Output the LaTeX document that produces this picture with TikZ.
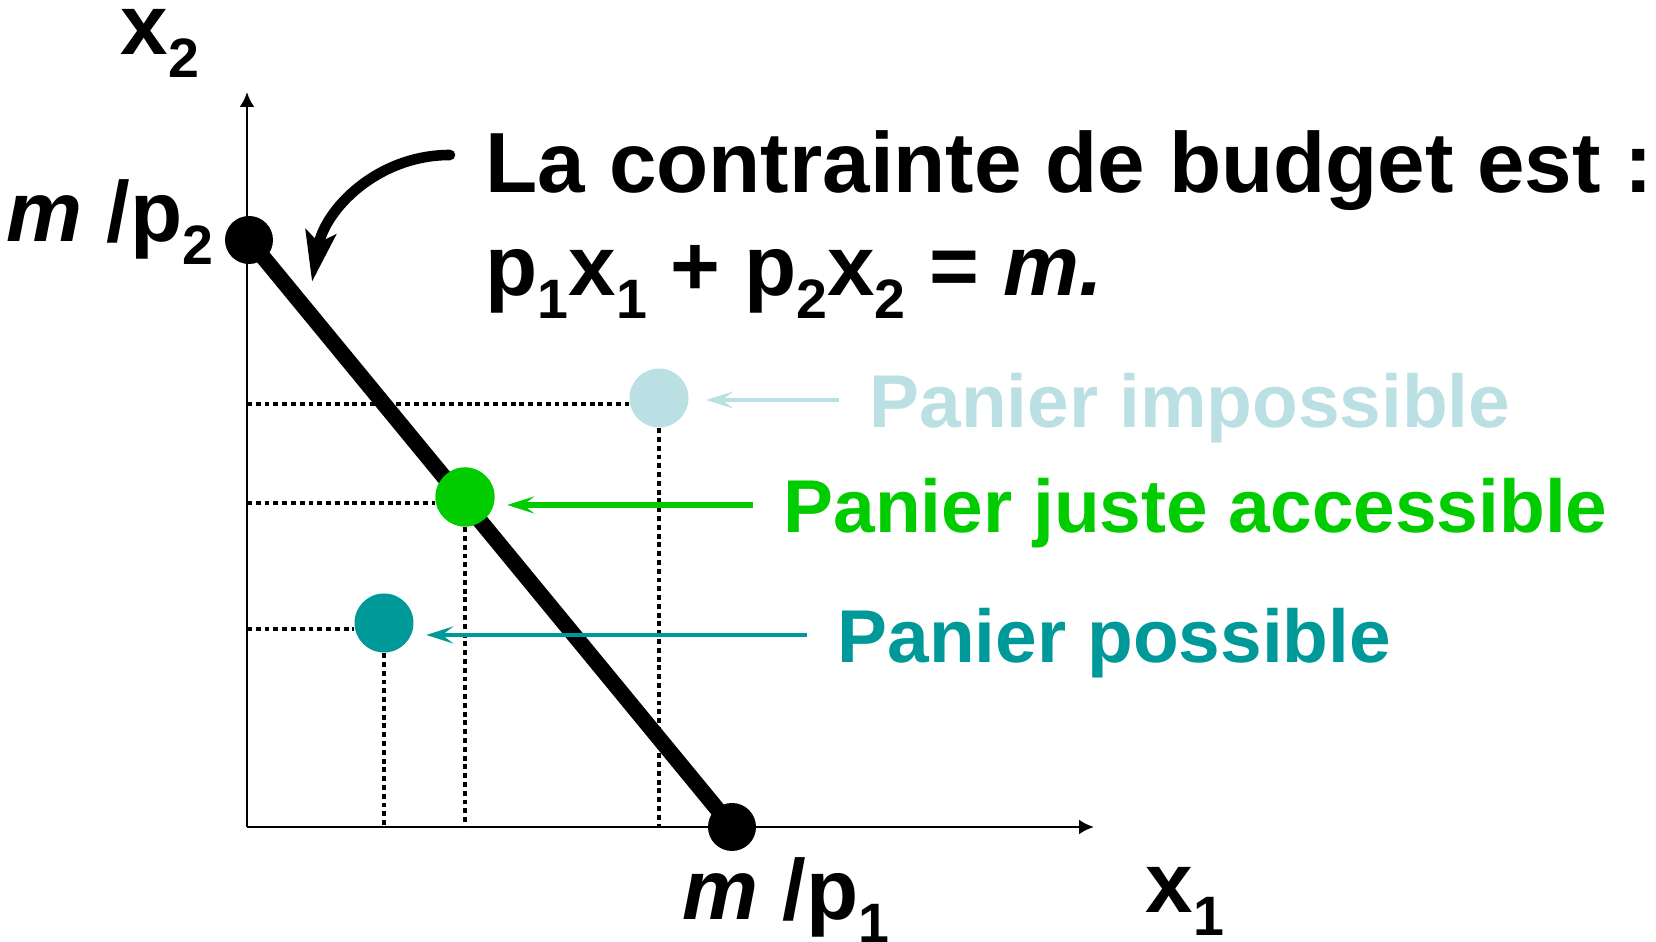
\documentclass[tikz,border=0pt]{standalone}
\usepackage{fontspec}
\setmainfont{Liberation Sans}
\usetikzlibrary{arrows.meta,positioning}
\definecolor{impcol}{RGB}{187,224,228}
\definecolor{justecol}{RGB}{0,204,0}
\definecolor{posscol}{RGB}{0,153,153}
\newcommand{\sbs}[1]{\raisebox{-0.26em}{\scalebox{0.65}{#1}}}
\begin{document}
\begin{tikzpicture}[
  big/.style={font=\fontsize{24.3}{28}\selectfont\bfseries, inner sep=0pt},
  lab/.style={font=\fontsize{21.3}{25}\selectfont\bfseries, inner sep=0pt},
  axis/.style={line width=0.8pt, -{Latex[length=1.5mm,width=1.5mm]}},
  guide/.style={line width=1.3pt, dash pattern=on 1.4pt off 1.1pt},
  budget/.style={line width=4.5pt},
  endpt/.style={circle, fill, inner sep=0pt, minimum size=4.8mm},
  bsk/.style={circle, fill, inner sep=0pt, minimum size=5.9mm},
  ptr/.style={-{Stealth[length=2.7mm,width=1.7mm,inset=1.1mm]}}
]
\useasboundingbox (-2.47,-1.15) rectangle (14.09,8.27);
% ---------------- axes ----------------
\coordinate (O) at (0,0);
\draw[axis] (O) -- (0,7.35);
\draw[axis] (O) -- (8.47,0);
\node[big, anchor=base west] (x2) at (-1.27,7.72) {x\sbs{2}};
\node[big, anchor=base west] (x1) at (8.98,-0.86) {x\sbs{1}};
% ---------------- baskets ----------------
\node[bsk, impcol] (imp) at (4.12,4.29) {};
\node[bsk, justecol] (juste) at (2.18,3.30) {};
\node[bsk, posscol] (poss) at (1.37,2.04) {};
\foreach \b in {imp, juste, poss} {
  \draw[guide] ([yshift=-0.06cm]O |- \b) -- ([yshift=-0.06cm]\b.west);
  \draw[guide] (\b.south) -- (\b |- O);
}
% ---------------- budget line ----------------
\node[endpt] (A) at (0.02,5.87) {};
\node[endpt] (B) at (4.85,0) {};
\draw[budget] (A.center) -- (B.center);
\node[bsk, justecol] at (juste) {};
\node[big, anchor=base east] (mp2) at (-0.33,5.85) {\textit{m} /p\sbs{2}};
\node[big, anchor=base west] (mp1) at (4.35,-0.93) {\textit{m} /p\sbs{1}};
% ---------------- equation ----------------
\node[big, anchor=base west] (title) at (2.38,6.34) {La contrainte de budget est :};
\node[big, anchor=base west] (eqn) at (2.38,5.31)
  {p\sbs{1}x\sbs{1} + p\sbs{2}x\sbs{2} = \textit{m.}};
\coordinate (cstart) at (2.03,6.72);
\coordinate (ctip) at (0.65,5.45);
\draw[line width=3pt, line cap=round, -{Stealth[length=5mm,width=3mm,inset=1mm]}]
  (cstart) to[out=180, in=80] (ctip);
% ---------------- labels ----------------
\node[lab, impcol, anchor=base west] (impl) at (6.22,3.99) {Panier impossible};
\node[lab, justecol, anchor=base west] (justel) at (5.36,2.94) {Panier juste accessible};
\node[lab, posscol, anchor=base west] (possl) at (5.90,1.64) {Panier possible};
\coordinate (impa) at ([shift={(-0.3,0.28)}]impl.base west);
\coordinate (justea) at ([shift={(-0.3,0.28)}]justel.base west);
\coordinate (possa) at ([shift={(-0.3,0.28)}]possl.base west);
\draw[ptr, impcol, line width=1pt, shorten >=1.7mm] (impa) -- (impa -| imp.east);
\draw[ptr, justecol, line width=1.5pt, shorten >=1.2mm] (justea) -- (justea -| juste.east);
\draw[ptr, posscol, line width=1.2pt, shorten >=1.2mm] (possa) -- (possa -| poss.east);
\end{tikzpicture}
\end{document}
